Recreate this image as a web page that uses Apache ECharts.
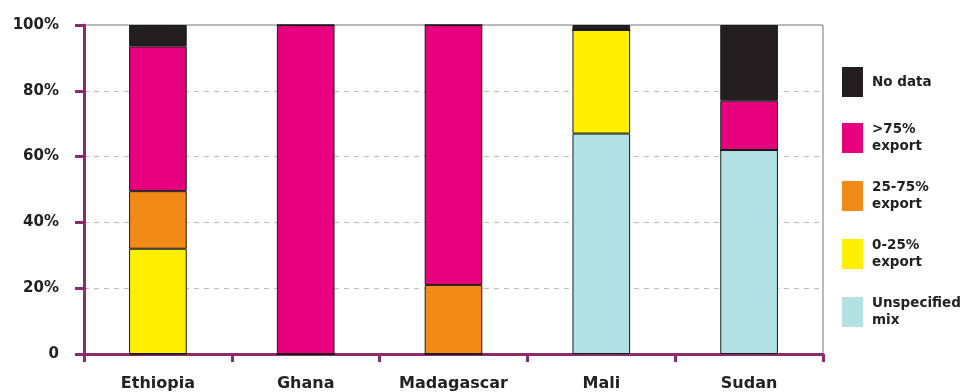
<!DOCTYPE html>
<html><head><meta charset="utf-8">
<script src="https://cdn.jsdelivr.net/npm/echarts@6/dist/echarts.min.js"></script>
<style>html,body{margin:0;padding:0;background:#fff}#c{width:963px;height:392px}</style>
</head><body><div id="c"></div>
<script>
var categories = ['Ethiopia', 'Ghana', 'Madagascar', 'Mali', 'Sudan'];
var unspecifiedMix = [0, 0, 0, 67, 62];
var export0to25 = [32, 0, 0, 31.5, 0];
var export25to75 = [17.5, 0, 21, 0, 0];
var exportOver75 = [44, 100, 79, 0, 15];
var noData = [6.5, 0, 0, 1.5, 23];
var yTicks = [0, 20, 40, 60, 80, 100];

var axisColor = '#8b2b6c';
var font = 'DejaVu Sans';
function mk(name, data, color) {
  return {
    name: name, type: 'bar', stack: 'a', data: data, barWidth: '39%',
    itemStyle: { color: color, borderColor: '#1a1a1a', borderWidth: 1 },
    emphasis: { disabled: true }
  };
}
var chart = echarts.init(document.getElementById('c'), null, { renderer: 'canvas' });
chart.setOption({
  animation: false,
  grid: { left: 84, right: 140, top: 25, bottom: 37, show: true, borderColor: '#777', borderWidth: 1, backgroundColor: 'transparent' },
  legend: {
    orient: 'vertical', left: 837, top: 62,
    itemWidth: 21, itemHeight: 30, itemGap: 24,
    icon: 'rect',
    itemStyle: { borderWidth: 0 },
    data: ['No data', '>75%\nexport', '25-75%\nexport', '0-25%\nexport', 'Unspecified\nmix'],
    textStyle: { fontFamily: font, fontWeight: 'bold', fontSize: 13.5, color: '#222', lineHeight: 17, padding: [0, 0, 0, 4] },
    selectedMode: false
  },
  xAxis: {
    type: 'category', data: categories,
    axisLine: { lineStyle: { color: axisColor, width: 3 } },
    axisTick: { show: true, length: 8, lineStyle: { color: axisColor, width: 3 } },
    axisLabel: { fontFamily: font, fontWeight: 'bold', fontSize: 16, color: '#222', margin: 22 }
  },
  yAxis: {
    type: 'value', min: 0, max: 100, interval: 20,
    axisLine: { show: true, lineStyle: { color: axisColor, width: 3 } },
    axisTick: { show: true, length: 9, lineStyle: { color: axisColor, width: 3 } },
    axisLabel: {
      fontFamily: font, fontWeight: 'bold', fontSize: 15, color: '#222', margin: 25,
      formatter: function (v) { return yTicks.indexOf(v) >= 0 ? (v === 0 ? '0' : v + '%') : ''; }
    },
    splitLine: { show: true, lineStyle: { color: '#bbb', type: [5, 5], width: 1 } }
  },
  series: [
    mk('Unspecified\nmix', unspecifiedMix, '#b2e1e3'),
    mk('0-25%\nexport', export0to25, '#fff000'),
    mk('25-75%\nexport', export25to75, '#f28a18'),
    mk('>75%\nexport', exportOver75, '#e6007e'),
    mk('No data', noData, '#231f20')
  ]
});
</script></body></html>
